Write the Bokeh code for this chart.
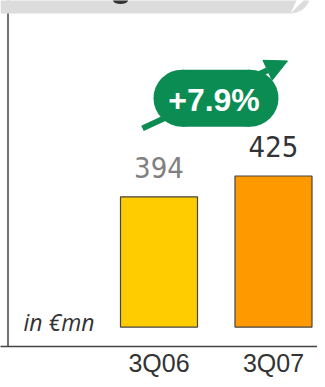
import numpy as np
from bokeh.plotting import figure
from bokeh.models import Range1d, FixedTicker, LabelSet, ColumnDataSource, Span, Arrow, NormalHead
from bokeh.core.properties import value
from bokeh.embed import file_html
from bokeh.resources import INLINE

# ---- data ----
categories = ["3Q06", "3Q07"]
revenue = [394, 425]
bar_colors = ["#FFCC00", "#FF9900"]
label_colors = ["#808080", "#333333"]
growth_label = "+7.9%"
unit_label = "in €mn"

# ---- layout ----
W, H = 317, 379
FW, FH = 317, 349
X_START, X_END = -1.3843, 1.3843
Y_START, Y_END = 171.1, 686.3
BASE = 200
GREEN = "#0A8C52"
NARROW = value("DejaVu Sans Condensed")


def dx(px):
    return X_START + px * (X_END - X_START) / FW


def dy(py):
    return Y_END - py * (Y_END - Y_START) / FH


p = figure(width=W, height=H, x_range=Range1d(X_START, X_END), y_range=Range1d(Y_START, Y_END),
           output_backend="svg", toolbar_location=None, min_border=0, min_border_bottom=H - FH)
p.yaxis.visible = False
p.grid.visible = False
p.outline_line_color = None
p.background_fill_color = "white"

xs = list(range(len(categories)))
src = ColumnDataSource(dict(x=xs, value=revenue, color=bar_colors,
                            label=[str(v) for v in revenue], label_color=label_colors))

ax = p.xaxis[0]
ax.ticker = FixedTicker(ticks=xs)
ax.major_label_overrides = {i: c for i, c in zip(xs, categories)}
ax.axis_line_color = "#444444"
ax.axis_line_width = 1.5
ax.major_tick_line_color = None
ax.minor_tick_line_color = None
ax.major_tick_out = 0
ax.major_tick_in = 0
ax.minor_tick_out = 0
ax.minor_tick_in = 0
ax.major_label_standoff = 2
ax.major_label_text_font = "Liberation Sans"
ax.major_label_text_font_size = "25px"
ax.major_label_text_color = "#333333"

# banner at top with rounded bottom-right corner
t = np.linspace(0, np.pi / 2, 20)
cx, cy, r = 290, -7, 20
arc_x = [dx(cx + r * np.sin(a)) for a in t[::-1]]
arc_y = [dy(cy + r * np.cos(a)) for a in t[::-1]]
bx = [dx(0), dx(0), dx(cx)] + arc_x + [dx(cx + r)]
by = [dy(-30), dy(13), dy(13)] + arc_y + [dy(-30)]
p.patch(bx, by, fill_color="#DCDCDC", line_color=None)
# cut-off glyph of the banner title
p.ellipse(x=[dx(120)], y=[dy(0)], width=15, height=7, width_units="screen",
          height_units="screen", fill_color="#333333", line_color=None)

# left axis line
vline = Span(location=dx(7.5), dimension="height", line_color="#444444", line_width=1.5)
vline.level = "underlay"
p.add_layout(vline)

# bars
p.vbar(x="x", top="value", bottom=BASE, width=77 / 114.5, fill_color="color",
       line_color="#444444", line_width=1.2, source=src)

p.add_layout(LabelSet(x="x", y="value", text="label", y_offset=19, text_align="center",
                      text_baseline="alphabetic", text_color="label_color",
                      text_font=NARROW, text_font_size="29px", source=src))

# growth arrow + pill
arrow = Arrow(x_start=dx(142), y_start=dy(129), x_end=dx(287), y_end=dy(61),
              line_color=GREEN, line_width=6,
              end=NormalHead(size=22, fill_color=GREEN, line_color=GREEN))
arrow.level = "underlay"
p.add_layout(arrow)

p.rect(x=[dx(215.5)], y=[dy(98.5)], width=68, height=57, width_units="screen",
       height_units="screen", fill_color=GREEN, line_color=None)
p.circle(x=[dx(181.5), dx(249.5)], y=[dy(98.5)] * 2, radius=28.5, radius_units="screen",
         fill_color=GREEN, line_color=None)
p.text(x=[dx(213.5)], y=[dy(100)], text=[growth_label], text_align="center",
       text_baseline="middle", text_color="white", text_font=value("Liberation Sans"),
       text_font_style="bold", text_font_size="32px")

p.text(x=[dx(23)], y=[dy(324)], text=[unit_label], text_align="left",
       text_baseline="alphabetic", text_color="#333333", text_font=value("Open Sans"),
       text_font_style="italic", text_font_size="23px")

open("out.html", "w").write(file_html(p, INLINE))
